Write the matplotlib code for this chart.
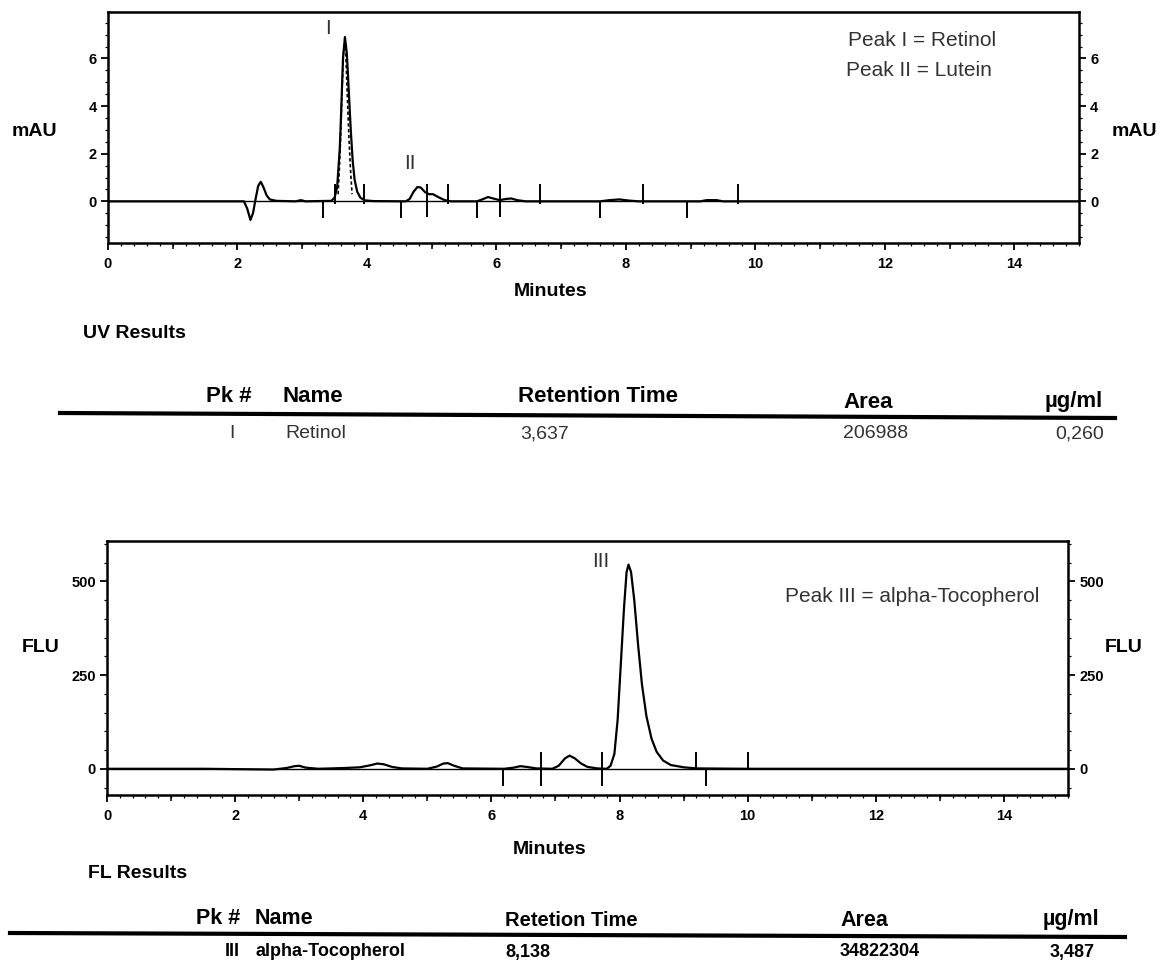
import matplotlib
matplotlib.use("Agg")
import matplotlib.pyplot as plt
from matplotlib.lines import Line2D
from matplotlib.ticker import MultipleLocator

plt.rcParams['font.family'] = ['Liberation Sans', 'DejaVu Sans']

# ---- UV trace (minutes, mAU) ----
uv_t = [0, 2.1, 2.15, 2.2, 2.24, 2.28, 2.32, 2.36, 2.4, 2.45, 2.5, 2.6, 2.9, 2.98, 3.05,
        3.45, 3.5, 3.54, 3.58, 3.6, 3.63, 3.66, 3.69, 3.72, 3.75, 3.78, 3.81, 3.85, 3.9,
        3.97, 4.1, 4.6, 4.66, 4.72, 4.78, 4.83, 4.9, 4.96, 5.02, 5.1, 5.2, 5.3, 5.7, 5.8,
        5.87, 5.95, 6.05, 6.15, 6.23, 6.32, 6.45, 7.6, 7.75, 7.9, 8.05, 8.2, 9.15, 9.25,
        9.4, 9.5, 15]
uv_y = [0, 0, -0.3, -0.78, -0.5, 0.1, 0.65, 0.82, 0.6, 0.25, 0.08, 0.02, 0.0, 0.05, 0.0,
        0.02, 0.15, 0.6, 2.2, 3.6, 6.0, 6.9, 6.2, 4.6, 3.0, 1.7, 0.9, 0.4, 0.15,
        0.04, 0.01, 0.0, 0.1, 0.4, 0.6, 0.58, 0.38, 0.3, 0.3, 0.18, 0.05, 0.0, 0.0, 0.1,
        0.18, 0.12, 0.05, 0.1, 0.12, 0.05, 0.0, 0.0, 0.05, 0.08, 0.03, 0.0, 0.0, 0.05,
        0.05, 0.0, 0]
# dashed overlay inside peak I
uv_dash_t = [3.555, 3.575, 3.595, 3.615, 3.64, 3.67, 3.695, 3.72, 3.745, 3.77]
uv_dash_y = [0.3, 1.4, 2.8, 4.6, 6.4, 6.4, 4.6, 2.8, 1.4, 0.3]
# integrator event marks (minutes)
uv_up = [3.51, 3.95, 5.25, 6.67, 8.27, 9.73]
uv_down = [3.32, 4.53, 5.70, 7.60, 8.94]
uv_cross = [4.93, 6.05]

# ---- FL trace (minutes, FLU) ----
fl_t = [0, 1.5, 2.6, 2.8, 2.93, 3.0, 3.1, 3.3, 3.7, 3.95, 4.1, 4.22, 4.32, 4.45, 4.6,
        5.0, 5.15, 5.25, 5.32, 5.42, 5.55, 6.2, 6.35, 6.45, 6.55, 6.7, 6.95, 7.05, 7.15,
        7.22, 7.3, 7.4, 7.5, 7.65, 7.8, 7.86, 7.92, 7.97, 8.02, 8.07, 8.11, 8.14, 8.18,
        8.23, 8.29, 8.35, 8.42, 8.5, 8.58, 8.68, 8.8, 9.0, 9.2, 10, 15]
fl_y = [0, 0, -2, 2, 7, 8, 3, 0, 2, 4, 9, 14, 12, 5, 1,
        0, 6, 14, 15, 8, 1, 0, 3, 7, 5, 1, 0, 8, 28,
        35, 28, 14, 5, 1, 0, 8, 40, 130, 280, 430, 525, 545, 525,
        450, 330, 225, 140, 80, 45, 22, 10, 4, 1, 0, 0]
fl_up = [9.19, 10.0]
fl_down = [6.18, 9.35]
fl_cross = [6.78, 7.73]

# ---- result tables ----
uv_header = ["Pk #", "Name", "Retention Time", "Area", "µg/ml"]
uv_row = ["I", "Retinol", "3,637", "206988", "0,260"]
fl_header = ["Pk #", "Name", "Retetion Time", "Area", "µg/ml"]
fl_row = ["III", "alpha-Tocopherol", "8,138", "34822304", "3,487"]

W, H = 1168, 965
fig = plt.figure(figsize=(W / 100, H / 100), dpi=100)


def fpos(x, y):
    return x / W, 1 - y / H


def ftext(x, y, s, **kw):
    kw.setdefault('va', 'center')
    fig.text(*fpos(x, y), s, **kw)


def make_axes(rect_px, ylim, yticks, yminor):
    l, t, r, b = rect_px
    ax = fig.add_axes([l / W, 1 - b / H, (r - l) / W, (b - t) / H])
    ax.set_xlim(0, 15)
    ax.set_ylim(*ylim)
    ax.set_xticks(range(0, 15, 2))
    ax.xaxis.set_minor_locator(MultipleLocator(0.2))
    ax.set_yticks(yticks)
    ax.yaxis.set_minor_locator(MultipleLocator(yminor))
    ax.tick_params(which='major', length=5, width=1.3, labelsize=10.5, pad=5)
    ax.tick_params(which='minor', length=2.5, width=0.9)
    ax.tick_params(axis='y', which='both', right=True, labelright=True, pad=3)
    for lab in ax.get_xticklabels() + ax.get_yticklabels():
        lab.set_fontweight('bold')
    for sp in ax.spines.values():
        sp.set_linewidth(1.8)
    # odd-minute medium ticks
    ax2 = ax.secondary_xaxis('bottom')
    ax2.set_xticks(range(1, 15, 2))
    ax2.set_xticklabels([])
    ax2.tick_params(length=4, width=1.1)
    ax2.spines['bottom'].set_visible(False)
    return ax


# ---- UV chromatogram ----
ax1 = make_axes((108, 12, 1079, 243), (-1.75, 7.95), [0, 2, 4, 6], 0.5)
ax1.plot(uv_t, uv_y, color='black', lw=1.6)
ax1.plot(uv_dash_t, uv_dash_y, color='black', lw=1.2, ls=(0, (2, 1.5)))
ax1.axhline(0, color='black', lw=1.0, zorder=0)
ax1.vlines(uv_up, -0.1, 0.72, color='black', lw=1.4)
ax1.vlines(uv_down, -0.68, 0.0, color='black', lw=1.4)
ax1.vlines(uv_cross, -0.65, 0.72, color='black', lw=1.4)
ax1.text(3.4, 7.25, "I", fontsize=15, ha='center', va='center', color='#333333')
ax1.text(4.67, 1.58, "II", fontsize=15, ha='center', va='center', color='#333333')

ftext(848, 40, "Peak I = Retinol", fontsize=15, color='#333333')
ftext(846, 70, "Peak II = Lutein", fontsize=15, color='#333333')
ftext(12, 131, "mAU", fontsize=14, fontweight='bold')
ftext(1112, 131, "mAU", fontsize=14, fontweight='bold')
ftext(551, 292, "Minutes", fontsize=14, fontweight='bold', ha='center')
ftext(83, 333, "UV Results", fontsize=14, fontweight='bold')

# UV table
ftext(252, 397, uv_header[0], fontsize=16, fontweight='bold', ha='right')
ftext(283, 397, uv_header[1], fontsize=16, fontweight='bold')
ftext(518, 397, uv_header[2], fontsize=16, fontweight='bold')
ftext(843, 402, uv_header[3], fontsize=16, fontweight='bold')
ftext(1045, 402, uv_header[4], fontsize=16, fontweight='bold')
fig.add_artist(Line2D([60 / W, 1115 / W], [1 - 413 / H, 1 - 418 / H],
                      color='black', lw=3, transform=fig.transFigure))
ftext(232, 434, uv_row[0], fontsize=14, ha='center', color='#333333')
ftext(285, 434, uv_row[1], fontsize=14, color='#333333')
ftext(520, 434, uv_row[2], fontsize=14, color='#333333')
ftext(843, 434, uv_row[3], fontsize=14, color='#333333')
ftext(1055, 434, uv_row[4], fontsize=14, color='#333333')

# ---- FL chromatogram ----
ax3 = make_axes((107, 541, 1068, 795), (-70, 608), [0, 250, 500], 50)
ax3.plot(fl_t, fl_y, color='black', lw=1.6)
ax3.axhline(0, color='black', lw=1.0, zorder=0)
ax3.vlines(fl_up, -4, 46, color='black', lw=1.4)
ax3.vlines(fl_down, -45, 0, color='black', lw=1.4)
ax3.vlines(fl_cross, -45, 46, color='black', lw=1.4)
ax3.text(7.7, 552, "III", fontsize=15, ha='center', va='center', color='#333333')

ftext(785, 596, "Peak III = alpha-Tocopherol", fontsize=15, color='#333333')
ftext(22, 647, "FLU", fontsize=14, fontweight='bold')
ftext(1105, 647, "FLU", fontsize=14, fontweight='bold')
ftext(550, 850, "Minutes", fontsize=14, fontweight='bold', ha='center')
ftext(88, 873, "FL Results", fontsize=14, fontweight='bold')

# FL table
ftext(240, 918, fl_header[0], fontsize=15.5, fontweight='bold', ha='right')
ftext(255, 918, fl_header[1], fontsize=15.5, fontweight='bold')
ftext(505, 920, fl_header[2], fontsize=14.5, fontweight='bold')
ftext(840, 921, fl_header[3], fontsize=15.5, fontweight='bold')
ftext(1043, 919, fl_header[4], fontsize=15.5, fontweight='bold')
fig.add_artist(Line2D([10 / W, 1125 / W], [1 - 933 / H, 1 - 937 / H],
                      color='black', lw=3, transform=fig.transFigure))
ftext(232, 952, fl_row[0], fontsize=13, fontweight='bold', ha='center')
ftext(255, 952, fl_row[1], fontsize=13, fontweight='bold')
ftext(505, 952, fl_row[2], fontsize=13, fontweight='bold')
ftext(840, 952, fl_row[3], fontsize=13, fontweight='bold')
ftext(1050, 952, fl_row[4], fontsize=13, fontweight='bold')

fig.savefig("out.png", dpi=100)
